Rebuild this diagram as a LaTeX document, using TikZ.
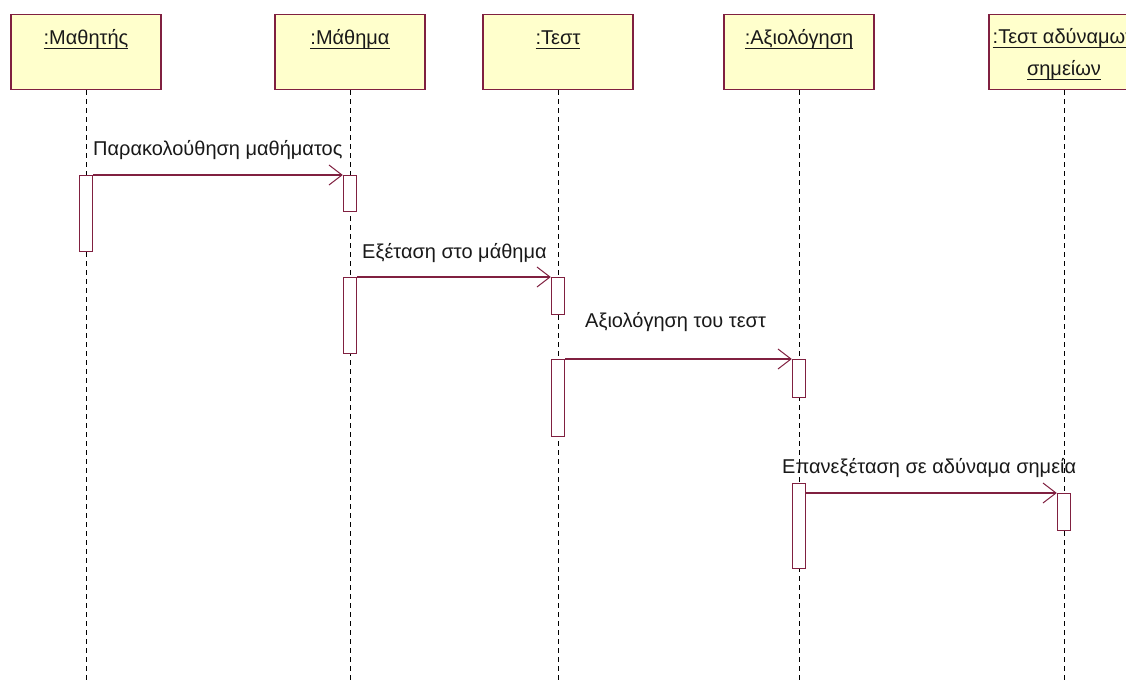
\documentclass[tikz,border=0pt]{standalone}
\usepackage{fontspec}
\setmainfont{Liberation Sans}
\usetikzlibrary{arrows.meta}
\definecolor{umlred}{RGB}{128,32,64}
\definecolor{umlfill}{RGB}{255,255,204}
\definecolor{ink}{RGB}{25,25,25}
% underline at a fixed depth below the baseline
\newcommand\myul[1]{\setbox0\hbox{#1}\rlap{\rule[-4pt]{\wd0}{0.9pt}}\box0}
\begin{document}
\begin{tikzpicture}[x=1pt,y=-1pt,
  font=\fontsize{20}{24}\selectfont,
  hbox/.style={draw=umlred,line width=1.4pt,fill=umlfill,minimum width=150pt,minimum height=75pt,anchor=north,inner sep=0pt},
  htext/.style={anchor=base,inner sep=0pt,text=ink},
  act/.style={draw=umlred,line width=1.4pt,fill=white,minimum width=13pt,anchor=north,inner sep=0pt},
  lifeline/.style={draw=black,line width=1pt,dash pattern=on 5pt off 4pt},
  msg/.style={draw=umlred,line width=1.8pt,-{Straight Barb[length=13pt,width=20pt,line width=1pt]}},
  mlabel/.style={anchor=base west,inner sep=0pt,text=ink}]
\clip (0,0) rectangle (1126,682);
\fill[white] (0,0) rectangle (1126,682);
\coordinate (bottom) at (0,682);

% object headers
\node[hbox] (h1) at (86,14) {};
\node[hbox] (h2) at (350,14) {};
\node[hbox] (h3) at (558,14) {};
\node[hbox] (h4) at (799,14) {};
\node[hbox] (h5) at (1064,14) {};
\node[htext] (t1) at (86,45) {\myul{:Μαθητής}};
\node[htext] (t2) at (350,45) {\myul{:Μάθημα}};
\node[htext] (t3) at (558,45) {\myul{:Τεστ}};
\node[htext] (t4) at (799,45) {\myul{:Αξιολόγηση}};
\node[htext] (t5a) at (1064,44) {\myul{:Τεστ αδύναμων}};
\node[htext] (t5b) at (1064,76) {\myul{σημείων}};

% lifelines
\foreach \h in {h1,h2,h3,h4,h5}
  \draw[lifeline] (\h.south) -- (\h.south |- bottom);

% activation bars
\node[act,minimum height=76pt] (a1) at (86,175) {};
\node[act,minimum height=36pt] (a2) at (350,175) {};
\node[act,minimum height=76pt] (a3) at (350,277) {};
\node[act,minimum height=37pt] (a4) at (558,277) {};
\node[act,minimum height=77pt] (a5) at (558,359) {};
\node[act,minimum height=38pt] (a6) at (799,359) {};
\node[act,minimum height=85pt] (a7) at (799,483) {};
\node[act,minimum height=37pt] (a8) at (1064,493) {};

% messages
\draw[msg] (a1.north east) -- (a2.north west);
\draw[msg] (a3.north east) -- (a4.north west);
\draw[msg] (a5.north east) -- (a6.north west);
\draw[msg] (a8.north west -| a7.east) -- (a8.north west);

\node[mlabel] (l1) at (93,155) {Παρακολούθηση μαθήματος};
\node[mlabel] (l2) at (362,258) {Εξέταση στο μάθημα};
\node[mlabel] (l3) at (585,327) {Αξιολόγηση του τεστ};
\node[mlabel] (l4) at (782,473) {Επανεξέταση σε αδύναμα σημεία};
\end{tikzpicture}
\end{document}
